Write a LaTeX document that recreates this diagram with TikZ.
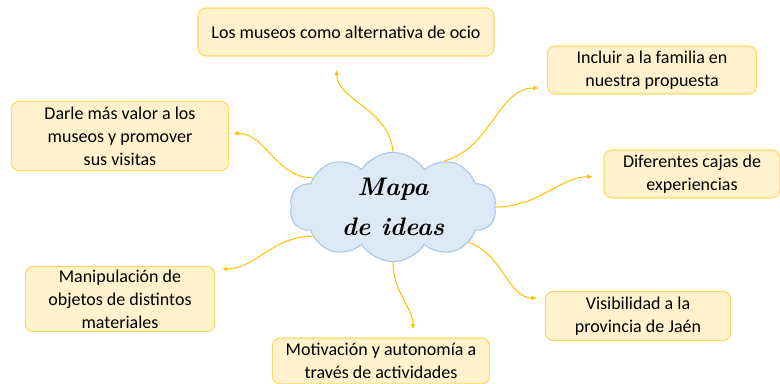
\documentclass[tikz,border=0pt]{standalone}
\usepackage{fontspec}
\setsansfont{Carlito}
\usetikzlibrary{arrows.meta,shapes.symbols}
\definecolor{boxfill}{HTML}{FFF2CC}
\definecolor{boxline}{HTML}{FFD966}
\definecolor{linkcol}{HTML}{FFC000}
\definecolor{cloudfill}{HTML}{DCE9F6}
\definecolor{cloudline}{HTML}{A7C6E8}
\begin{document}
\begin{tikzpicture}[x=0.75pt,y=-0.75pt]
\tikzset{
  ideabox/.style={rectangle,rounded corners=6pt,draw=boxline,fill=boxfill,line width=0.8pt,align=center,inner sep=2pt,font=\sffamily\fontsize{13.5}{17.25}\selectfont},
  ideacloud/.style={cloud,cloud puffs=10,cloud puff arc=115,aspect=2,draw=cloudline,fill=cloudfill,line width=0.8pt,inner sep=0pt,minimum width=155pt,minimum height=82pt,align=center,font=\rmfamily\bfseries\itshape\fontsize{19}{30}\selectfont},
  link/.style={draw=linkcol,line width=0.75pt,-{Latex[length=4pt,width=3.5pt]}}
}
\useasboundingbox (0,0) rectangle (780,383);
\node[ideacloud] (n_idea) at (393,207) {Mapa\\de ideas};
\node[ideabox,minimum width=222pt,minimum height=36pt] (n_ocio) at (346,32) {Los museos como alternativa de ocio};
\node[ideabox,minimum width=157pt,minimum height=36pt] (n_familia) at (652,70) {Incluir a la familia en\\nuestra propuesta};
\node[ideabox,minimum width=132pt,minimum height=36pt] (n_cajas) at (692,174) {Diferentes cajas de\\experiencias};
\node[ideabox,minimum width=163pt,minimum height=52pt] (n_valor) at (120,136) {Darle más valor a los\\museos y promover\\sus visitas};
\node[ideabox,minimum width=142pt,minimum height=49pt] (n_manip) at (120,299) {Manipulación de\\objetos de distintos\\materiales};
\node[ideabox,minimum width=163pt,minimum height=34.5pt] (n_motiv) at (381,361) {Motivación y autonomía a\\través de actividades};
\node[ideabox,minimum width=139pt,minimum height=37pt] (n_visib) at (638,316) {Visibilidad a la\\provincia de Jaén};
\draw[link,shorten >=10pt] (n_idea.north) to[out=95,in=-90] ([xshift=-7pt]n_ocio.south);
\draw[link,shorten >=6pt] (n_idea.42) to[out=15,in=180] ([yshift=-13.5pt]n_familia.west);
\draw[link,shorten >=8pt] (n_idea.east) to[out=0,in=180] ([yshift=-2pt]n_cajas.west);
\draw[link,shorten >=3pt] (n_idea.160) to[out=180,in=0] ([yshift=2pt]n_valor.east);
\draw[link,shorten >=5pt] (n_idea.200) to[out=180,in=0] ([yshift=22.5pt]n_manip.east);
\draw[link,shorten >=6pt] (n_idea.south) to[out=-90,in=90] ([xshift=24pt]n_motiv.north);
\draw[link,shorten >=6pt] (n_idea.-25) to[out=-20,in=180] ([yshift=13.5pt]n_visib.west);
\end{tikzpicture}
\end{document}
